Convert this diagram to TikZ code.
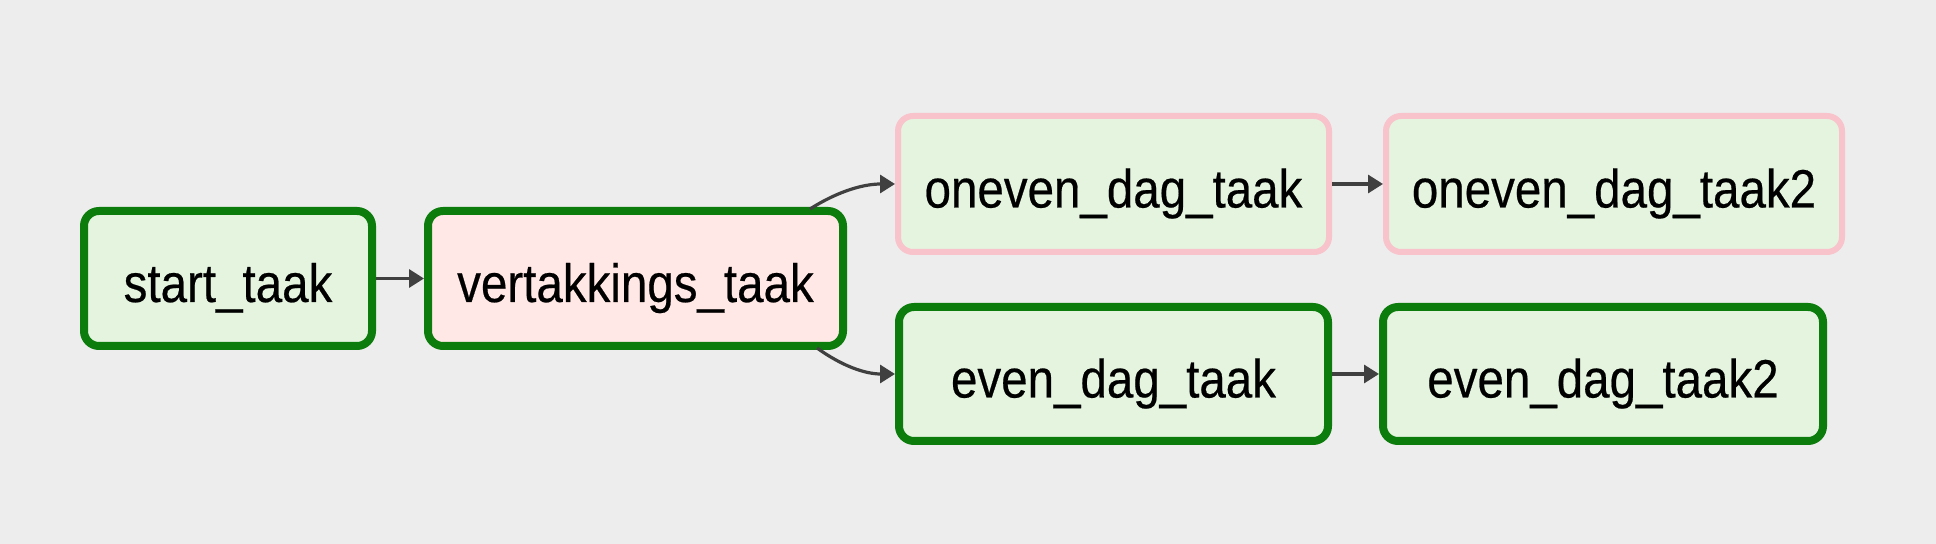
\documentclass[tikz,border=0pt]{standalone}
\usepackage{fontspec}
\newfontfamily\lab[FakeStretch=0.88,FakeBold=0.4]{Liberation Sans}
\usetikzlibrary{arrows.meta}
\definecolor{bgcol}{HTML}{EDEDED}
\definecolor{okgreen}{HTML}{0C7C0C}
\definecolor{greenfill}{HTML}{E4F4DF}
\definecolor{pinkfill}{HTML}{FFE8E5}
\definecolor{skippink}{HTML}{F8C3CB}
\definecolor{edgecol}{HTML}{404040}
\tikzset{
  taskbox/.style={rectangle, rounded corners=7.5pt, inner sep=0pt,
    font=\lab\fontsize{27pt}{30pt}\selectfont, text=black,
    text height=24pt, text depth=0.5pt, align=center},
  okbox/.style={taskbox, draw=okgreen, line width=4pt},
  skipbox/.style={taskbox, draw=skippink, line width=3pt},
  edge/.style={draw=edgecol, line width=1.6pt, -{Triangle[length=7.5pt,width=9pt]}}
}
\begin{document}
\begin{tikzpicture}[x=0.5pt,y=-0.5pt]
\fill[bgcol] (0,0) rectangle (1936,544);
\useasboundingbox (0,0) rectangle (1936,544);
\node[okbox, fill=greenfill, minimum width=144pt, minimum height=67.5pt] (start) at (228,278.5) {start\_taak};
\node[okbox, fill=pinkfill, minimum width=207.5pt, minimum height=67.5pt] (vert) at (635.5,278.5) {vertakkings\_taak};
\node[skipbox, fill=greenfill, minimum width=215.5pt, minimum height=68pt] (oneven) at (1113.5,184) {oneven\_dag\_taak};
\node[skipbox, fill=greenfill, minimum width=228pt, minimum height=68pt] (oneven2) at (1614,184) {oneven\_dag\_taak2};
\node[okbox, fill=greenfill, minimum width=214.5pt, minimum height=67pt] (even) at (1113.5,374) {even\_dag\_taak};
\node[okbox, fill=greenfill, minimum width=220pt, minimum height=67pt] (even2) at (1603,374) {even\_dag\_taak2};
\draw[edge] (start) -- (vert);
\coordinate (vtop) at ([xshift=-18.5pt,yshift=-1pt]vert.north east);
\coordinate (vbot) at ([xshift=-15pt,yshift=1pt]vert.south east);
\draw[edge] (vtop) .. controls (840,190) and (865,184) .. (oneven.west);
\draw[edge] (vbot) .. controls (842,366) and (865,374) .. (even.west);
\draw[edge] (oneven) -- (oneven2);
\draw[edge] (even) -- (even2);
\end{tikzpicture}
\end{document}
